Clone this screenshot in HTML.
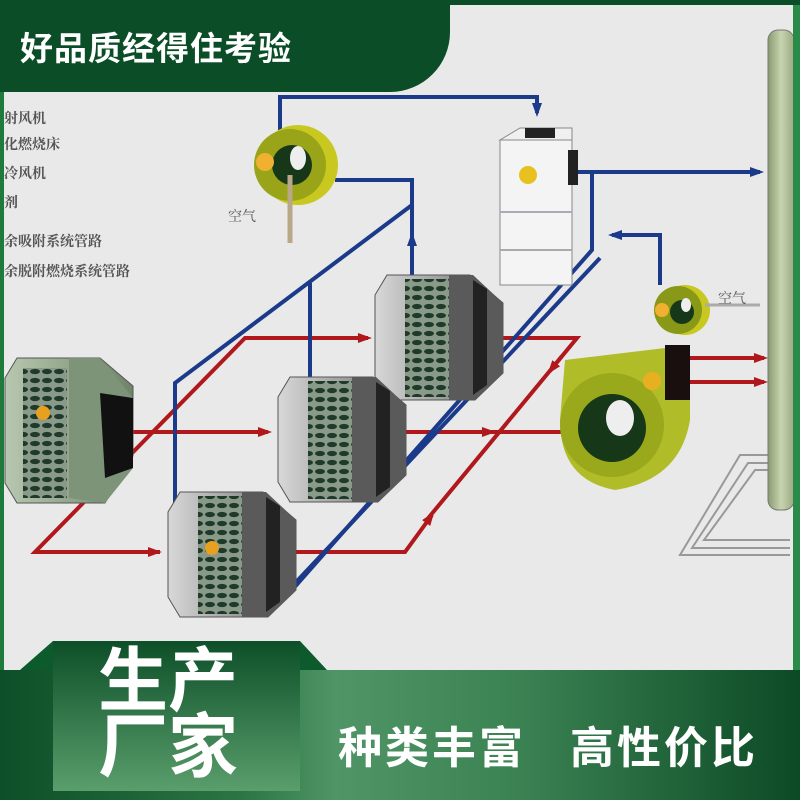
<!DOCTYPE html>
<html><head><meta charset="utf-8"><style>
html,body{margin:0;padding:0}
body{width:800px;height:800px;position:relative;overflow:hidden;background:#e9e9e9;font-family:"Liberation Sans","Noto Sans CJK SC",sans-serif}
.t{position:absolute;font-family:"Liberation Serif","Noto Serif CJK SC",serif;color:#555;font-size:14px;font-weight:bold}
</style></head><body>
<svg width="800" height="800" style="position:absolute;left:0;top:0">
<defs>
<pattern id="mesh" width="12" height="9" patternUnits="userSpaceOnUse">
<rect width="12" height="9" fill="#8a9a88"/>
<ellipse cx="6" cy="4.5" rx="5" ry="2.6" fill="#1f3a2a"/>
</pattern>
<linearGradient id="gb" x1="0" x2="1"><stop offset="0" stop-color="#d8d8d8"/><stop offset="1" stop-color="#6a6a6a"/></linearGradient>
<linearGradient id="gg" x1="0" x2="1"><stop offset="0" stop-color="#b8c8b0"/><stop offset="1" stop-color="#6e8468"/></linearGradient>
<linearGradient id="st" x1="0" x2="1"><stop offset="0" stop-color="#8a9a70"/><stop offset="0.5" stop-color="#c8d4b0"/><stop offset="1" stop-color="#9aaa80"/></linearGradient>
<linearGradient id="box" x1="0" y1="0" x2="0" y2="1"><stop offset="0" stop-color="#0d4f28"/><stop offset="1" stop-color="#5a9e6c"/></linearGradient>
<marker id="ab" markerWidth="14" markerHeight="10" refX="10" refY="5" orient="auto" markerUnits="userSpaceOnUse"><path d="M0,0 L14,5 L0,10z" fill="#1b3a8a"/></marker>
<marker id="ar" markerWidth="14" markerHeight="10" refX="10" refY="5" orient="auto" markerUnits="userSpaceOnUse"><path d="M0,0 L14,5 L0,10z" fill="#b0181c"/></marker>
<g id="ads">
<polygon points="12,0 95,0 128,28 128,98 100,125 12,125 0,105 0,20" fill="url(#gb)" stroke="#555"/>
<rect x="30" y="4" width="44" height="118" fill="url(#mesh)"/>
<polygon points="74,0 98,0 128,28 128,98 100,125 74,125" fill="#5a5a5a"/>
<polygon points="98,5 112,14 112,110 98,120" fill="#222"/>
</g>
</defs>
<g fill="none" stroke="#999" stroke-width="2">
<polyline points="790,455 740,455 680,555 790,555"/>
<polyline points="790,463 748,463 692,548 790,548"/>
<polyline points="790,470 755,470 704,540 790,540"/>
</g>
<rect x="768" y="30" width="26" height="480" rx="10" fill="url(#st)" stroke="#777"/>
<g stroke="#b0181c" stroke-width="4" fill="none">
<line x1="120" y1="432" x2="268" y2="432" marker-end="url(#ar)"/>
<line x1="390" y1="432" x2="492" y2="432" marker-end="url(#ar)"/>
<line x1="480" y1="432" x2="598" y2="432"/>
<polyline points="160,552 35,552 245,338 368,338" marker-end="url(#ar)"/>
<polyline points="35,552 158,552" marker-end="url(#ar)"/>
<polyline points="290,552 405,552 432,515" marker-end="url(#ar)"/>
<polyline points="425,522 577,338 470,338"/>
<line x1="562" y1="356" x2="550" y2="371" marker-end="url(#ar)"/>
<line x1="690" y1="358" x2="764" y2="358" marker-end="url(#ar)"/>
<line x1="690" y1="382" x2="764" y2="382" marker-end="url(#ar)"/>
</g>
<g stroke="#1b3a8a" stroke-width="4" fill="none">
<polyline points="280,130 280,97 537,97 537,113" marker-end="url(#ab)"/>
<polyline points="335,180 412,180 412,290"/>
<line x1="412" y1="255" x2="412" y2="236" marker-end="url(#ab)"/>
<polyline points="412,205 175,383 175,505"/>
<line x1="310" y1="283" x2="310" y2="390"/>
<line x1="575" y1="172" x2="760" y2="172" marker-end="url(#ab)"/>
<polyline points="592,172 592,250 285,598 242,598" marker-end="url(#ab)"/>
<line x1="600" y1="258" x2="268" y2="612"/>
<line x1="492" y1="373" x2="422" y2="373" marker-end="url(#ab)"/>
<line x1="372" y1="480" x2="338" y2="480" marker-end="url(#ab)"/>
<polyline points="660,285 660,235 612,235" marker-end="url(#ab)"/>
</g>
<g transform="translate(5,358)">
<polygon points="12,0 95,0 128,28 128,98 100,145 12,145 0,125 0,20" fill="url(#gg)" stroke="#555"/>
<rect x="18" y="10" width="44" height="130" fill="url(#mesh)"/>
<polygon points="64,0 95,0 128,40 128,110 100,145 64,140" fill="#7e9478"/>
<polygon points="95,35 128,40 128,110 100,120" fill="#111"/>
<circle cx="38" cy="55" r="7" fill="#e8a020"/>
</g>
<use href="#ads" x="375" y="275"/>
<use href="#ads" x="278" y="377"/>
<use href="#ads" x="168" y="492"/>
<circle cx="212" cy="548" r="7" fill="#e8a020"/>
<rect x="500" y="140" width="72" height="145" fill="#f4f4f4" stroke="#888"/>
<polygon points="500,140 520,128 572,128 572,140" fill="#f0f0f0" stroke="#888"/>
<rect x="525" y="128" width="30" height="10" fill="#222"/>
<rect x="568" y="150" width="10" height="35" fill="#222"/>
<line x1="500" y1="212" x2="572" y2="212" stroke="#aab" stroke-width="2"/>
<line x1="500" y1="250" x2="572" y2="250" stroke="#aaa" stroke-width="2"/>
<circle cx="528" cy="175" r="9" fill="#e8c020"/>
<g>
<circle cx="298" cy="165" r="40" fill="#c8c820"/>
<circle cx="290" cy="165" r="36" fill="#9aa418"/>
<circle cx="292" cy="165" r="20" fill="#173818"/>
<ellipse cx="298" cy="158" rx="8" ry="12" fill="#eee"/>
<circle cx="265" cy="162" r="9" fill="#f0b030"/>
<line x1="290" y1="175" x2="290" y2="243" stroke="#b8a888" stroke-width="5"/>
</g>
<g>
<circle cx="685" cy="310" r="25" fill="#c8c820"/>
<circle cx="678" cy="310" r="24" fill="#8a9818"/>
<circle cx="682" cy="312" r="12" fill="#173818"/>
<ellipse cx="686" cy="305" rx="5" ry="7" fill="#eee"/>
<circle cx="662" cy="310" r="7" fill="#f0b030"/>
<line x1="705" y1="305" x2="760" y2="305" stroke="#aaa" stroke-width="3"/>
</g>
<g>
<path d="M565,360 L690,345 L690,420 Q680,480 615,490 Q560,480 560,420z" fill="#b0bc28"/>
<circle cx="612" cy="425" r="52" fill="#9aa81c"/>
<circle cx="612" cy="428" r="34" fill="#173818"/>
<ellipse cx="620" cy="418" rx="14" ry="18" fill="#eee"/>
<rect x="665" y="345" width="25" height="55" fill="#1a0f0f"/>
<circle cx="652" cy="381" r="9" fill="#e8b020"/>
</g>
</svg>
<div class="t" style="left:4px;top:108px">射风机</div>
<div class="t" style="left:4px;top:134px">化燃烧床</div>
<div class="t" style="left:4px;top:163px">冷风机</div>
<div class="t" style="left:4px;top:192px">剂</div>
<div class="t" style="left:4px;top:231px">余吸附系统管路</div>
<div class="t" style="left:4px;top:261px">余脱附燃烧系统管路</div>
<div class="t" style="left:228px;top:206px;font-weight:normal">空气</div>
<div class="t" style="left:718px;top:288px;font-weight:normal">空气</div>
<div style="position:absolute;left:0;top:0;width:4px;height:800px;background:#1f7a3e"></div>
<div style="position:absolute;right:0;top:0;width:7px;height:800px;background:#2a8a4a"></div>
<div style="position:absolute;left:0;top:0;width:800px;height:5px;background:#0b4d27"></div>
<div style="position:absolute;left:0;top:0;width:450px;height:92px;background:#0b4d27;border-bottom-right-radius:60px"></div>
<div style="position:absolute;left:20px;top:22px;color:#fff;font-size:33px;font-weight:bold;letter-spacing:1px">好品质经得住考验</div>
<div style="position:absolute;left:0;top:670px;width:800px;height:130px;background:linear-gradient(90deg,#0d4f28 0%,#2c7444 30%,#4f9566 42%,#3b8253 65%,#0c4a25 100%)"></div>
<svg width="800" height="800" style="position:absolute;left:0;top:0">
<polygon points="20,670 53,641 300,641 327,670" fill="#0d5a2c"/>
<rect x="53" y="641" width="247" height="150" fill="url(#box)"/>
</svg>
<div style="position:absolute;left:98px;top:648px;color:#fff;font-size:70px;font-weight:bold;line-height:66px;letter-spacing:0px">生产<br>厂家</div>
<div style="position:absolute;left:338px;top:712px;color:#fff;font-size:44px;font-weight:bold;white-space:nowrap;letter-spacing:3px">种类丰富</div>
<div style="position:absolute;left:570px;top:712px;color:#fff;font-size:44px;font-weight:bold;white-space:nowrap;letter-spacing:3px">高性价比</div>
</body></html>
